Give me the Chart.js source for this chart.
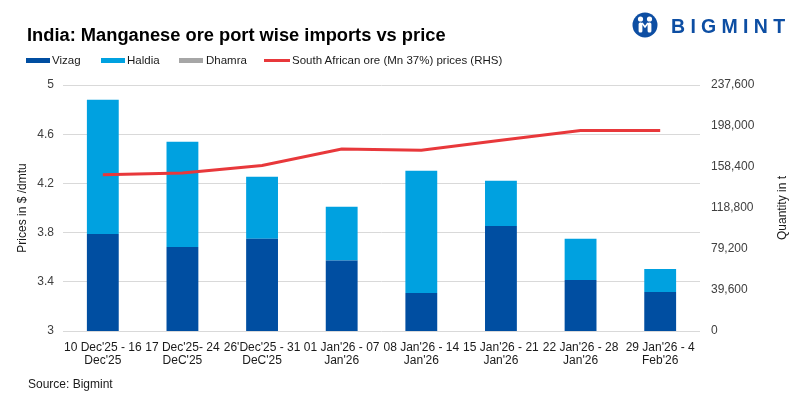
<!DOCTYPE html>
<html>
<head>
<meta charset="utf-8">
<script src="https://cdn.jsdelivr.net/npm/chart.js@4.4.1/dist/chart.umd.min.js"></script>
<style>
  html, body { margin:0; padding:0; background:#fff; }
  #wrap { position:relative; width:799px; height:397px; overflow:hidden; font-family:"Liberation Sans", Arial, sans-serif; color:#1a1a1a; }
  #c { position:absolute; left:0; top:0; }
  .abs { position:absolute; white-space:nowrap; }
  #title { left:27px; top:24px; font-size:18.3px; font-weight:bold; color:#000; line-height:22px; }
  .lg { position:absolute; top:53px; font-size:11.5px; line-height:14px; color:#1a1a1a; white-space:nowrap; }
  .sw { position:absolute; }
  #source { left:28px; top:377px; font-size:12px; line-height:14px; color:#1a1a1a; }
  #logo { left:630px; top:10px; }
  #brand { left:671px; top:14px; font-size:19.5px; font-weight:bold; letter-spacing:5.3px; color:#0d4ea3; line-height:24px; }
</style>
</head>
<body>
<div id="wrap">
  <canvas id="c" width="799" height="397"></canvas>
  <div id="title" class="abs">India: Manganese ore port wise imports vs price</div>
  <div class="sw" style="left:26px;top:58px;width:24px;height:5px;background:#004EA1"></div>
  <div class="lg" style="left:52px">Vizag</div>
  <div class="sw" style="left:101px;top:58px;width:24px;height:5px;background:#00A1E0"></div>
  <div class="lg" style="left:127px">Haldia</div>
  <div class="sw" style="left:179px;top:58px;width:24px;height:5px;background:#A6A6A6"></div>
  <div class="lg" style="left:206px">Dhamra</div>
  <div class="sw" style="left:264px;top:59px;width:26px;height:3px;background:#E8383B"></div>
  <div class="lg" style="left:292px">South African ore (Mn 37%) prices (RHS)</div>
  <div id="source" class="abs">Source: Bigmint</div>
  <svg id="logo" class="abs" width="30" height="30" viewBox="0 0 30 30">
    <circle cx="15" cy="15" r="12.5" fill="#0d4ea3"/>
    <circle cx="10.5" cy="9" r="2.6" fill="#fff"/>
    <circle cx="19.5" cy="9" r="2.6" fill="#fff"/>
    <rect x="8.6" y="12.5" width="3.8" height="10" rx="1.5" fill="#fff"/>
    <rect x="17.6" y="12.5" width="3.8" height="10" rx="1.5" fill="#fff"/>
    <path d="M12 13 L15 17 L18 13" stroke="#fff" stroke-width="1.6" fill="none"/>
  </svg>
  <div id="brand" class="abs">BIGMINT</div>
</div>
<script>
const categories = [
  ["10 Dec'25 - 16", "Dec'25"],
  ["17 Dec'25- 24", "DeC'25"],
  ["26'Dec'25 - 31", "DeC'25"],
  ["01 Jan'26 - 07", "Jan'26"],
  ["08 Jan'26 - 14", "Jan'26"],
  ["15 Jan'26 - 21", "Jan'26"],
  ["22 Jan'26 - 28", "Jan'26"],
  ["29 Jan'26 - 4", "Feb'26"]
];
const vizag  = [93800, 81200, 89000, 68000, 36700, 101500, 49300, 37700];
const haldia = [129600, 101600, 59900, 51900, 118000, 43500, 39700, 22300];
const dhamra = [0, 0, 0, 0, 0, 0, 0, 0];
const saPrice = [4.27, 4.285, 4.345, 4.48, 4.47, 4.55, 4.63, 4.63];
const priceTicks = { min: 3, max: 5, step: 0.4 };
const qtyTicks = { min: 0, max: 237600, step: 39600 };

const FONT = "'Liberation Sans', Arial, sans-serif";

const rightTitle = {
  id: 'rightTitle',
  afterDraw(chart) {
    const ctx = chart.ctx;
    const a = chart.chartArea;
    ctx.save();
    ctx.translate(783, (a.top + a.bottom) / 2);
    ctx.rotate(-Math.PI / 2);
    ctx.font = "12px " + FONT;
    ctx.fillStyle = '#1a1a1a';
    ctx.textAlign = 'center';
    ctx.textBaseline = 'middle';
    ctx.fillText('Quantity in t', 0, 0);
    ctx.restore();
  }
};

new Chart(document.getElementById('c'), {
  data: {
    labels: categories,
    datasets: [
      { type: 'line', label: 'South African ore (Mn 37%) prices (RHS)', data: saPrice, yAxisID: 'y',
        borderColor: '#E8383B', borderWidth: 3, pointRadius: 0, tension: 0, fill: false, order: 0 },
      { type: 'bar', label: 'Vizag', data: vizag, yAxisID: 'y1', backgroundColor: '#004EA1', order: 1,
        barPercentage: 0.4, categoryPercentage: 1, stack: 's' },
      { type: 'bar', label: 'Haldia', data: haldia, yAxisID: 'y1', backgroundColor: '#00A1E0', order: 1,
        barPercentage: 0.4, categoryPercentage: 1, stack: 's' },
      { type: 'bar', label: 'Dhamra', data: dhamra, yAxisID: 'y1', backgroundColor: '#A6A6A6', order: 1,
        barPercentage: 0.4, categoryPercentage: 1, stack: 's' }
    ]
  },
  options: {
    responsive: false,
    animation: false,
    devicePixelRatio: 1,
    layout: { padding: { top: 85, left: 0, right: 0, bottom: 0 } },
    plugins: { legend: { display: false }, title: { display: false }, tooltip: { enabled: false } },
    scales: {
      x: {
        stacked: true,
        grid: { display: false, drawTicks: false },
        border: { display: false },
        ticks: { color: '#1a1a1a', font: { family: FONT, size: 12, lineHeight: 1.1 }, padding: 10,
                 maxRotation: 0, autoSkip: false },
        afterFit(s) { s.height = 66; }
      },
      y: {
        position: 'left',
        min: priceTicks.min, max: priceTicks.max,
        grid: { color: '#D9D9D9', lineWidth: 1, drawTicks: false },
        border: { display: false },
        ticks: { stepSize: priceTicks.step, color: '#404040', font: { family: FONT, size: 12 }, padding: 9,
                 callback: v => String(+(+v).toFixed(1)) },
        title: { display: true, text: 'Prices in $ /dmtu', color: '#1a1a1a', font: { family: FONT, size: 12 },
                 padding: { top: 15, bottom: 0 } },
        afterFit(s) { s.width = 63; }
      },
      y1: {
        position: 'right',
        stacked: true,
        min: qtyTicks.min, max: qtyTicks.max,
        grid: { display: false, drawTicks: false },
        border: { display: false },
        ticks: { stepSize: qtyTicks.step, color: '#404040', font: { family: FONT, size: 12 }, padding: 11,
                 callback: v => Number(v).toLocaleString('en-US') },
        afterFit(s) { s.width = 99; }
      }
    }
  },
  plugins: [rightTitle]
});
</script>
</body>
</html>
